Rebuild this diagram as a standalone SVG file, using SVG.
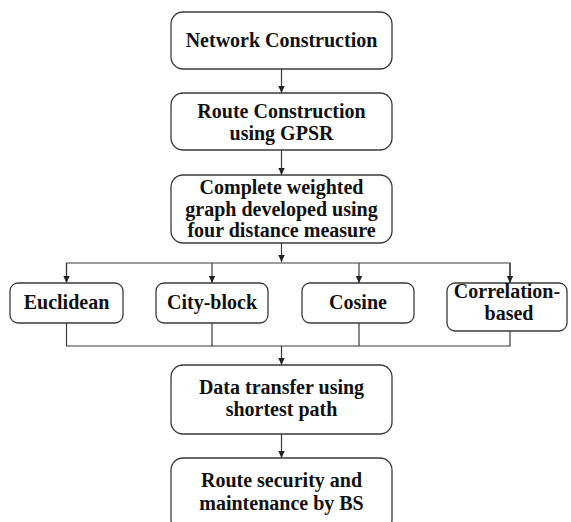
<svg xmlns="http://www.w3.org/2000/svg" width="571" height="522" viewBox="0 0 571 522">
<defs>
<style>
.box{fill:#fff;stroke:#3a3a3a;stroke-width:1.3}
.t{font-family:'Liberation Serif','Times New Roman','DejaVu Serif',serif;font-weight:bold;font-size:20px;fill:#111;text-anchor:middle}
.c{fill:none;stroke:#3a3a3a;stroke-width:1.2}
</style>
<marker id="ah" markerWidth="8" markerHeight="8" refX="7" refY="4" orient="auto" markerUnits="userSpaceOnUse">
<path d="M0,0.8 L7,4 L0,7.2 Z" fill="#222"/>
</marker>
</defs>
<rect width="571" height="522" fill="#fff"/>
<g id="connectors">
<line class="c" x1="281.5" y1="69" x2="281.5" y2="93" marker-end="url(#ah)"/>
<line class="c" x1="281.5" y1="150" x2="281.5" y2="175" marker-end="url(#ah)"/>
<line class="c" x1="281.5" y1="243" x2="281.5" y2="262" marker-end="url(#ah)"/>
<polyline class="c" points="66.5,283 66.5,263 510,263 510,283"/>
<line class="c" x1="66.5" y1="263" x2="66.5" y2="283" marker-end="url(#ah)"/>
<line class="c" x1="212" y1="263" x2="212" y2="283" marker-end="url(#ah)"/>
<line class="c" x1="359" y1="263" x2="359" y2="283" marker-end="url(#ah)"/>
<line class="c" x1="510" y1="263" x2="510" y2="283" marker-end="url(#ah)"/>
<polyline class="c" points="66.5,323 66.5,346 510,346 510,331"/>
<line class="c" x1="212" y1="323" x2="212" y2="346"/>
<line class="c" x1="359" y1="323" x2="359" y2="346"/>
<line class="c" x1="281.5" y1="346" x2="281.5" y2="365" marker-end="url(#ah)"/>
<line class="c" x1="281.5" y1="434" x2="281.5" y2="458" marker-end="url(#ah)"/>
</g>
<g id="n1"><rect class="box" x="171" y="12" width="221" height="57" rx="12"/><text class="t" x="281.5" y="47">Network Construction</text></g>
<g id="n2"><rect class="box" x="171" y="93" width="221" height="57" rx="12"/><text class="t" x="281.5" y="118">Route Construction</text><text class="t" x="281.5" y="140">using GPSR</text></g>
<g id="n3"><rect class="box" x="171" y="175" width="221" height="68" rx="12"/><text class="t" x="281.5" y="194">Complete weighted</text><text class="t" x="281.5" y="216">graph developed using</text><text class="t" x="281.5" y="237">four distance measure</text></g>
<g id="n4"><rect class="box" x="10" y="283" width="113" height="40" rx="8"/><text class="t" x="66.5" y="309">Euclidean</text></g>
<g id="n5"><rect class="box" x="156" y="283" width="112" height="40" rx="8"/><text class="t" x="212" y="309">City-block</text></g>
<g id="n6"><rect class="box" x="302" y="283" width="112" height="40" rx="8"/><text class="t" x="358" y="309">Cosine</text></g>
<g id="n7"><rect class="box" x="447" y="283" width="120" height="48" rx="8"/><text class="t" x="507" y="298">Correlation-</text><text class="t" x="509" y="320">based</text></g>
<g id="n8"><rect class="box" x="171" y="365" width="221" height="69" rx="12"/><text class="t" x="281.5" y="394">Data transfer using</text><text class="t" x="281.5" y="416">shortest path</text></g>
<g id="n9"><rect class="box" x="171" y="458" width="221" height="74" rx="12"/><text class="t" x="281.5" y="487">Route security and</text><text class="t" x="281.5" y="510">maintenance by BS</text></g>
</svg>
